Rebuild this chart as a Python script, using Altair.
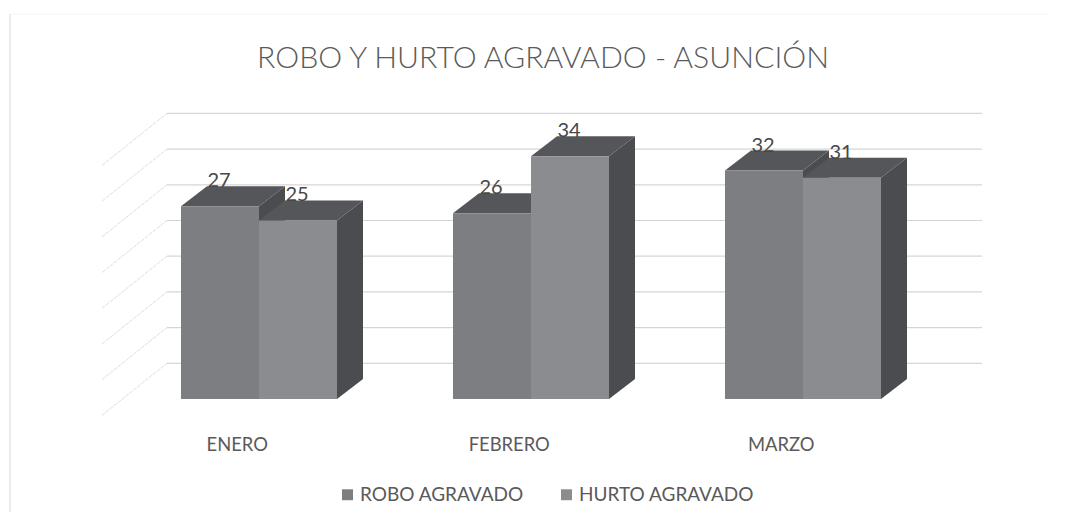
import altair as alt
import pandas as pd

TITLE = "ROBO Y HURTO AGRAVADO - ASUNCIÓN"
MONTHS = ["ENERO", "FEBRERO", "MARZO"]
SERIES = ["ROBO AGRAVADO", "HURTO AGRAVADO"]
ROBO = [27, 26, 32]
HURTO = [25, 34, 31]
WALL_LEVELS = [0, 5, 10, 15, 20, 25, 30, 35]

FONT = "Lato"
BAR_W = 0.2868      # one bar, in category units
DEPTH_X = 0.0956    # 3-D depth, in category units
DEPTH_Y = 2.8       # 3-D depth, in value units
WALL_Y = 5.0
X_DOM = [-0.636, 3.228]
Y_DOM = [-15.83, 54.76]

ticks = [m + 0.205 for m in range(len(MONTHS))]

x_scale = alt.Scale(domain=X_DOM, nice=False, zero=False)
y_scale = alt.Scale(domain=Y_DOM, nice=False, zero=False)
x_axis = alt.Axis(
    values=ticks,
    labelExpr="['ENERO','FEBRERO','MARZO'][round(datum.value - 0.205)]",
    domain=False,
    ticks=False,
    grid=False,
    offset=-68,
    labelFontSize=18.4,
    labelFont=FONT,
    labelColor="#5a5a5a",
    labelPadding=0,
    labelBaseline="middle",
)
X = alt.X("x:Q", scale=x_scale, title=None, axis=x_axis)
Y = alt.Y("y:Q", scale=y_scale, title=None, axis=None)

fronts, sides, tops, labels = [], [], [], []
for m, month in enumerate(MONTHS):
    for s, (name, vals) in enumerate(zip(SERIES, [ROBO, HURTO])):
        v = vals[m]
        x0 = m + s * BAR_W
        x1 = x0 + BAR_W
        bid = f"{m}-{s}"
        fronts.append(dict(x=x0, x2=x1, y=0, y2=v, serie=name))
        sides += [
            dict(x=x1, y=v, y2=0, id=bid, s=s),
            dict(x=x1 + DEPTH_X, y=v + DEPTH_Y, y2=DEPTH_Y, id=bid, s=s),
        ]
        tops += [
            dict(x=x0, y=v, y2=v, id=bid, s=s),
            dict(x=x0 + DEPTH_X, y=v + DEPTH_Y, y2=v, id=bid, s=s),
            dict(x=x1, y=v + DEPTH_Y, y2=v, id=bid, s=s),
            dict(x=x1 + DEPTH_X, y=v + DEPTH_Y, y2=v + DEPTH_Y, id=bid, s=s),
        ]
        labels.append(dict(x=(x0 + x1) / 2, y=v + DEPTH_Y, t=str(v)))

sides = pd.DataFrame(sides)
tops = pd.DataFrame(tops)

wall = pd.DataFrame([dict(x=-0.0515, x2=2.945, y=w + WALL_Y) for w in WALL_LEVELS])
diag = pd.DataFrame(
    [r for w in WALL_LEVELS for r in (
        dict(x=-0.29, y=w + WALL_Y - 7.28, id=w),
        dict(x=-0.0515, y=w + WALL_Y, id=w),
    )]
)

axis_layer = (
    alt.Chart(wall)
    .mark_rule(color="#d6d6d6", strokeWidth=1.2)
    .encode(x=X, x2="x2:Q", y=Y)
)
diag_layer = (
    alt.Chart(diag)
    .mark_line(color="#dedede", strokeWidth=1, strokeDash=[4, 1])
    .encode(x=X, y=Y, detail="id:N")
)


def area(df, s, color):
    return (
        alt.Chart(df[df.s == s])
        .mark_area(color=color, interpolate="linear")
        .encode(x=X, y=Y, y2="y2:Q", detail="id:N")
    )


front_layer = (
    alt.Chart(pd.DataFrame(fronts))
    .mark_rect()
    .encode(
        x=X,
        x2="x2:Q",
        y=Y,
        y2="y2:Q",
        color=alt.Color(
            "serie:N",
            scale=alt.Scale(domain=SERIES, range=["#7d7e82", "#8b8c8f"]),
            legend=alt.Legend(
                title=None,
                orient="none",
                legendX=330,
                legendY=477,
                direction="horizontal",
                symbolType="square",
                symbolSize=120,
                symbolStrokeWidth=0,
                labelFont=FONT,
                labelFontSize=19,
                labelColor="#5a5a5a",
                labelLimit=300,
                columnPadding=33,
                labelOffset=3,
            ),
        ),
    )
)
label_layer = (
    alt.Chart(pd.DataFrame(labels))
    .mark_text(font=FONT, fontSize=20, color="#484848", baseline="middle", dy=-5, dx=-1)
    .encode(x=X, y=Y, text="t:N")
)

border_left = (
    alt.Chart(pd.DataFrame({"a": [0]}))
    .mark_rule(color="#e4e4e4", strokeWidth=1.5)
    .encode(x=alt.value(2), y=alt.value(6), y2=alt.value(504))
)
border_top = (
    alt.Chart(pd.DataFrame({"a": [0]}))
    .mark_rule(color="#f3f3f3", strokeWidth=1)
    .encode(x=alt.value(2), x2=alt.value(1040), y=alt.value(6))
)

chart = (
    alt.layer(
        border_left,
        border_top,
        axis_layer,
        diag_layer,
        area(sides, 0, "#4b4c50"),
        area(tops, 0, "#54565a"),
        area(sides, 1, "#4b4c50"),
        area(tops, 1, "#54565a"),
        front_layer,
        label_layer,
    )
    .properties(
        width=1051,
        height=504,
        padding=0,
        autosize=alt.AutoSizeParams(type="none"),
        title=alt.TitleParams(
            TITLE,
            anchor="middle",
            offset=-66,
            dx=9.5,
            font=FONT,
            fontSize=30.2,
            fontWeight=300,
            color="#5a5a5a",
        ),
    )
    .configure_view(stroke=None)
)

chart.save("out.html", embed_options={"renderer": "svg", "actions": False})
